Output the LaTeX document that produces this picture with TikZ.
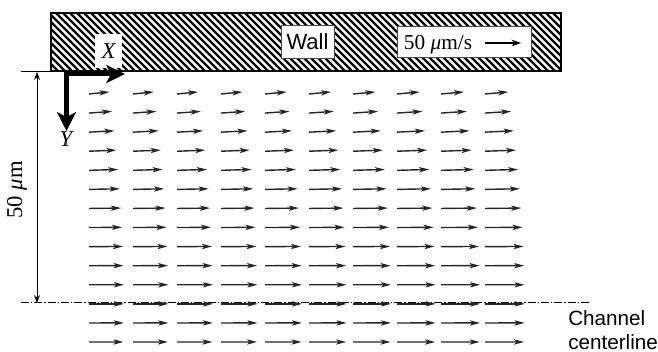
\documentclass[tikz,border=0pt]{standalone}
\usepackage{fontspec}
\setmainfont{Liberation Serif}
\newfontfamily\arialfont{Liberation Sans}
\usetikzlibrary{arrows.meta}
\tikzset{
  vec/.style={line width=1.05pt, draw=black!85, -{Stealth[length=7.5pt,width=3.9pt,inset=1.8pt]}},
  whitebox/.style={fill=white, draw=black!70, line width=0.4pt, inner sep=0pt},
  sanslabel/.style={font=\arialfont\fontsize{16.5}{19}\selectfont},
  cllabel/.style={font=\arialfont\fontsize{15.5}{19}\selectfont},
  seriflabel/.style={font=\fontsize{16}{19}\selectfont},
  axisarrow/.style={line width=3.5pt, line join=miter, {Stealth[length=14pt,width=13.5pt,inset=3.5pt]}-{Stealth[length=14pt,width=14pt,inset=3.5pt]}},
  dimline/.style={line width=0.75pt, {Stealth[length=6pt,width=4.5pt,inset=2pt]}-{Stealth[length=6pt,width=4.5pt,inset=2pt]}},
}
\begin{document}
\begin{tikzpicture}[x=0.75pt,y=-0.75pt]
\useasboundingbox (0,0) rectangle (658,352);
% wall with hatch
\begin{scope}
  \clip (51,13) rectangle (561,71);
  \foreach \x in {-70,-63,...,565} \draw[line width=1.8pt] (\x,13) -- ++(58,58);
\end{scope}
\draw[line width=0.8pt] (51,13) rectangle (561,71);
% labels on wall
\node (walllbl) [whitebox, sanslabel, minimum width=40pt, minimum height=24.5pt] at (307.5,41.5) {Wall};
\node (speedbox) [whitebox, minimum width=100.5pt, minimum height=23.5pt] at (464,41.5) {};
\node (speedtxt) [seriflabel, anchor=base, inner sep=0pt] at (438,50) {50 \textit{μ}m/s};
\coordinate (sa) at (485,43);
\coordinate (sb) at (521,43);
\draw[line width=0.8pt, -{Stealth[length=7pt,width=5pt,inset=2pt]}] (sa) -- (sb);
\node (xbox) [whitebox, draw=none, minimum width=20.25pt, minimum height=25pt] at (108.5,51) {};
\node (xlbl) [font=\fontsize{17}{20}\selectfont, inner sep=0pt] at (109,51) {\textit{X}};
% axes
\coordinate (O) at (66.5,74);
\coordinate (Xtip) at (125,74);
\coordinate (Ytip) at (66.5,131);
\draw[axisarrow] (Xtip) -- (O) -- (Ytip);
\node (ylbl) [font=\fontsize{17}{20}\selectfont, inner sep=0pt] at (67,139) {\textit{Y}};
% top reference line
\coordinate (tl) at (21,71.5);
\coordinate (tr) at (51,71.5);
\draw[line width=0.75pt] (tl) -- (tr);
% dimension
\coordinate (d1) at (37,72);
\coordinate (d2) at (37,303);
\draw[dimline] (d1) -- (d2);
\node (dimlbl) [font=\fontsize{17}{20}\selectfont, rotate=90, inner sep=0pt] at (17,190) {50 \textit{μ}m};
% centerline
\coordinate (c1) at (21,303);
\coordinate (c2) at (591,303);
\draw[line width=0.75pt, dash pattern=on 6pt off 1.5pt on 1pt off 1.5pt] (c1) -- (c2);
\node (ch1) [cllabel, anchor=base west, inner sep=0pt] at (568,326) {Channel};
\node (ch2) [cllabel, anchor=base west, inner sep=0pt] at (568,349.5) {centerline};
% vector field
\foreach \i in {0,...,13} {
  \foreach \j in {0,...,9} {
    \pgfmathsetmacro\yy{94+19.08*\i}
    \pgfmathsetmacro\dd{1-(\yy-73)/230}
    \pgfmathsetmacro\L{35*(1-0.5*\dd*\dd)*(1+0.015*\j)}
    \pgfmathsetmacro\r{2.5*\dd*\dd}
    \draw[vec] ({89+44*\j},\yy) -- ++(\L,-\r);
  }
}
\end{tikzpicture}
\end{document}
